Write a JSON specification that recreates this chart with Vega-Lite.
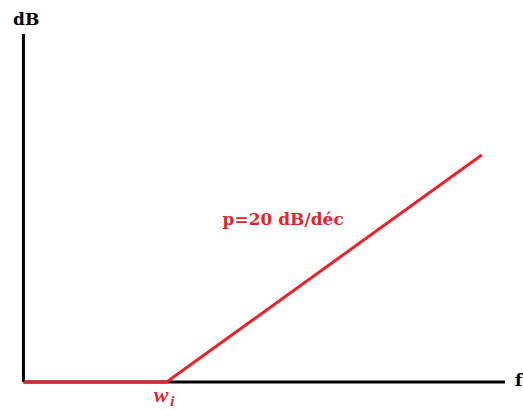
{
  "$schema": "https://vega.github.io/schema/vega-lite/v6.json",
  "width": 523,
  "height": 410,
  "padding": 0,
  "autosize": {"type": "fit", "contains": "padding"},
  "background": "white",
  "config": {"view": {"stroke": null}},
  "datasets": {
    "axes": [
      {"x": 0, "y": 0, "x2": 0, "y2": 67.45},
      {"x": 0, "y": 0, "x2": 3.362, "y2": 0}
    ],
    "asymptote": [
      {"f": 0, "db": 0},
      {"f": 1, "db": 0},
      {"f": 3.2, "db": 44}
    ],
    "axisLabels": [
      {"x": -0.073, "y": 69.2, "label": "dB"},
      {"x": 3.432, "y": -0.775, "label": "f"}
    ],
    "slopeLabel": [{"x": 1.39, "y": 30.4, "label": "p=20 dB/déc"}],
    "cornerMain": [{"x": 0.909, "y": -3.88, "label": "w"}],
    "cornerSub": [{"x": 1.025, "y": -4.65, "label": "i"}]
  },
  "layer": [
    {
      "data": {"name": "axes"},
      "mark": {"type": "rule", "color": "black", "strokeWidth": 3},
      "encoding": {
        "x": {"field": "x", "type": "quantitative", "scale": {"domain": [-0.1638, 3.481], "nice": false, "zero": false}, "axis": null},
        "y": {"field": "y", "type": "quantitative", "scale": {"domain": [-5.43, 74.05], "nice": false, "zero": false}, "axis": null},
        "x2": {"field": "x2"},
        "y2": {"field": "y2"}
      }
    },
    {
      "data": {"name": "asymptote"},
      "mark": {"type": "line", "color": "#e8232b", "strokeWidth": 3},
      "encoding": {
        "x": {"field": "f", "type": "quantitative"},
        "y": {"field": "db", "type": "quantitative"},
        "order": {"field": "f"}
      }
    },
    {
      "data": {"name": "axisLabels"},
      "mark": {"type": "text", "align": "left", "baseline": "alphabetic", "font": "DejaVu Serif", "fontWeight": "bold", "fontSize": 17, "color": "black"},
      "encoding": {
        "x": {"field": "x", "type": "quantitative"},
        "y": {"field": "y", "type": "quantitative"},
        "text": {"field": "label"}
      }
    },
    {
      "data": {"name": "slopeLabel"},
      "mark": {"type": "text", "align": "left", "baseline": "alphabetic", "font": "DejaVu Serif", "fontWeight": "bold", "fontSize": 17, "color": "#e8232b"},
      "encoding": {
        "x": {"field": "x", "type": "quantitative"},
        "y": {"field": "y", "type": "quantitative"},
        "text": {"field": "label"}
      }
    },
    {
      "data": {"name": "cornerMain"},
      "mark": {"type": "text", "align": "left", "baseline": "alphabetic", "font": "Liberation Serif", "fontWeight": "bold", "fontStyle": "italic", "fontSize": 22, "color": "#e8232b"},
      "encoding": {
        "x": {"field": "x", "type": "quantitative"},
        "y": {"field": "y", "type": "quantitative"},
        "text": {"field": "label"}
      }
    },
    {
      "data": {"name": "cornerSub"},
      "mark": {"type": "text", "align": "left", "baseline": "alphabetic", "font": "Liberation Serif", "fontWeight": "bold", "fontStyle": "italic", "fontSize": 15, "color": "#e8232b"},
      "encoding": {
        "x": {"field": "x", "type": "quantitative"},
        "y": {"field": "y", "type": "quantitative"},
        "text": {"field": "label"}
      }
    }
  ]
}
